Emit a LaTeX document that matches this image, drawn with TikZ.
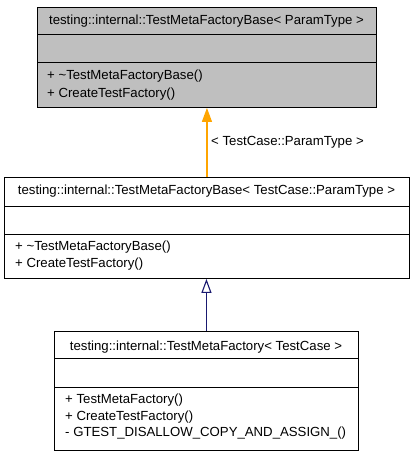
\documentclass[tikz,border=0pt]{standalone}
\usepackage{fontspec}
\setmainfont{Liberation Sans}
\usetikzlibrary{arrows.meta}
\definecolor{boxgray}{HTML}{BFBFBF}
\definecolor{edgeorange}{HTML}{FFA500}
\definecolor{edgeblue}{HTML}{191970}
\tikzset{
  classbox/.style={draw=black, line width=0.9pt, inner sep=0pt, anchor=north west},
  sepline/.style={draw=black, line width=0.9pt},
  lbl/.style={inner sep=0pt, font=\fontsize{13.2}{15}\selectfont},
  member/.style={lbl, anchor=west},
  orangeedge/.style={color=edgeorange, line width=1.3pt, -{Triangle[length=14pt,width=10pt]}},
  blueedge/.style={color=edgeblue, line width=1.1pt, -{Triangle[open,length=14pt,width=10pt]}}
}
\begin{document}
\begin{tikzpicture}[x=1pt,y=-1pt]
\useasboundingbox (0,0) rectangle (413,456);
% box 1
\node[classbox, fill=boxgray, minimum width=339pt, minimum height=100pt] (b1) at (37,7) {};
\draw[sepline] (37,34) -- (376,34);
\draw[sepline] (37,62) -- (376,62);
\node[lbl] (t1) at (206.5,21) {testing::internal::TestMetaFactoryBase< ParamType >};
\node[member] (m11) at (47,76) {+ \textasciitilde TestMetaFactoryBase()};
\node[member] (m12) at (47,94) {+ CreateTestFactory()};
% box 2
\node[classbox, fill=white, minimum width=405pt, minimum height=101pt] (b2) at (4,177) {};
\draw[sepline] (4,206) -- (409,206);
\draw[sepline] (4,234) -- (409,234);
\node[lbl] (t2) at (206.5,191) {testing::internal::TestMetaFactoryBase< TestCase::ParamType >};
\node[member] (m21) at (15,247) {+ \textasciitilde TestMetaFactoryBase()};
\node[member] (m22) at (15,264) {+ CreateTestFactory()};
% box 3
\node[classbox, fill=white, minimum width=304pt, minimum height=119pt] (b3) at (54,331) {};
\draw[sepline] (54,358) -- (358,358);
\draw[sepline] (54,387) -- (358,387);
\node[lbl] (t3) at (206,347) {testing::internal::TestMetaFactory< TestCase >};
\node[member] (m31) at (65,400) {+ TestMetaFactory()};
\node[member] (m32) at (65,417) {+ CreateTestFactory()};
\node[member] (m33) at (65,433) {- GTEST\_DISALLOW\_COPY\_AND\_ASSIGN\_()};
% edges
\draw[orangeedge] (b2.north) -- (b1.south);
\node[member] (e1) at (211,142) {< TestCase::ParamType >};
\draw[blueedge] (b3.north) -- (b3.north |- b2.south);
\end{tikzpicture}
\end{document}
